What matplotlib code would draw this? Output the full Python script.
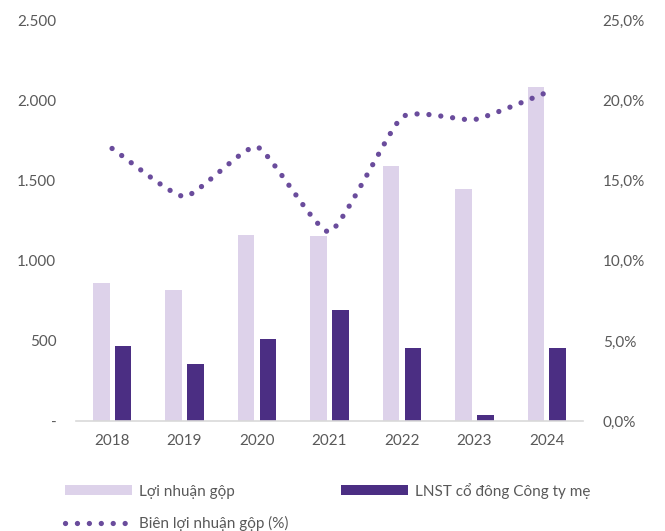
import numpy as np
import matplotlib.pyplot as plt
from matplotlib.patches import Patch
from matplotlib.lines import Line2D
from matplotlib.ticker import FuncFormatter

years = ["2018", "2019", "2020", "2021", "2022", "2023", "2024"]
gross_profit = [860, 820, 1160, 1155, 1590, 1446, 2082]
net_profit = [468, 355, 511, 692, 455, 37, 455]
gross_margin = [17.0, 14.0, 17.1, 11.8, 18.95, 18.8, 20.5]

light = "#ddd2ea"
dark = "#4b2e83"
dots = "#6a4c9c"
grey = "#595959"

plt.rcParams["font.family"] = ["Lato", "DejaVu Sans"]


def smooth(x, y, n=40, k=0.25):
    # cubic Hermite path through the points (like Excel's smoothed line)
    x = np.asarray(x, float)
    y = np.asarray(y, float)
    px = np.concatenate([[2 * x[0] - x[1]], x, [2 * x[-1] - x[-2]]])
    py = np.concatenate([[2 * y[0] - y[1]], y, [2 * y[-1] - y[-2]]])
    xs, ys = [], []
    for i in range(1, len(px) - 2):
        t = np.linspace(0, 1, n, endpoint=(i == len(px) - 3))
        h00 = 2 * t ** 3 - 3 * t ** 2 + 1
        h10 = t ** 3 - 2 * t ** 2 + t
        h01 = -2 * t ** 3 + 3 * t ** 2
        h11 = t ** 3 - t ** 2
        for p, out in ((px, xs), (py, ys)):
            m1 = k * (p[i + 1] - p[i - 1])
            m2 = k * (p[i + 2] - p[i])
            out.extend(h00 * p[i] + h10 * m1 + h01 * p[i + 1] + h11 * m2)
    return np.array(xs), np.array(ys)


fig = plt.figure(figsize=(6.65, 5.31), dpi=100)
ax = fig.add_axes([0.114, 0.207, 0.763, 0.755])
ax2 = ax.twinx()

x = np.arange(len(years))
w = 0.23
ax.bar(x - 0.15, gross_profit, width=w, color=light, zorder=2)
ax.bar(x + 0.15, net_profit, width=w, color=dark, zorder=2)

dot_style = dict(color=dots, lw=3.8, linestyle=(0, (0.01, 2.25)),
                 dash_capstyle="round")
sx, sy = smooth(x, gross_margin)
ax2.plot(sx, sy, **dot_style)

ax.set_xlim(-0.5, 6.5)
ax.set_ylim(0, 2500)
ax2.set_ylim(0, 25)
ax.set_yticks(np.arange(0, 2501, 500))
ax2.set_yticks(np.arange(0, 26, 5))
ax.yaxis.set_major_formatter(FuncFormatter(
    lambda v, p: "-" if v == 0 else f"{int(v):,}".replace(",", ".")))
ax2.yaxis.set_major_formatter(FuncFormatter(
    lambda v, p: f"{v:.1f}%".replace(".", ",")))
ax.set_xticks(x)
ax.set_xticklabels(years)

for a in (ax, ax2):
    for s in a.spines.values():
        s.set_visible(False)
    a.tick_params(length=0, labelsize=11, labelcolor=grey)
ax.spines["bottom"].set_visible(True)
ax.spines["bottom"].set_color("#d9d9d9")
ax.spines["bottom"].set_linewidth(1.2)
ax.tick_params(axis="x", pad=9)
ax.tick_params(axis="y", pad=14)
ax2.tick_params(axis="y", pad=14)

handles = [
    Patch(facecolor=light, label="Lợi nhuận gộp"),
    Line2D([0], [0], label="Biên lợi nhuận gộp (%)", **dot_style),
    Patch(facecolor=dark, label="LNST cổ đông Công ty mẹ"),
]
fig.legend(handles=handles, ncol=2, loc="upper left",
           bbox_to_anchor=(0.077, 0.117), frameon=False, fontsize=11,
           labelcolor=grey, handlelength=4.4, handleheight=0.65,
           handletextpad=0.45, columnspacing=3.45, labelspacing=1.15)

fig.savefig("out.png", dpi=100)
